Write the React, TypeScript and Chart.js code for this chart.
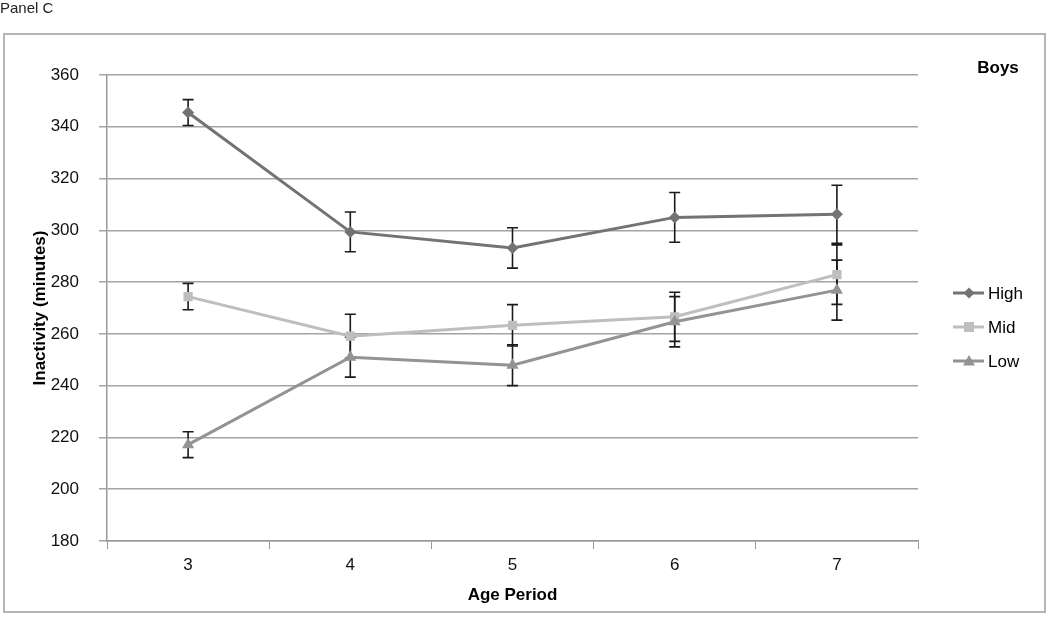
import React, { useEffect, useRef } from "react";
import { Chart, registerables } from "chart.js";

Chart.register(...registerables);

const categories = ["3", "4", "5", "6", "7"];
const highValues = [345.5, 299.4, 293.2, 305.0, 306.2];
const highErrors = [5.0, 7.7, 7.8, 9.6, 11.2];
const midValues = [274.4, 259.1, 263.3, 266.6, 282.9];
const midErrors = [5.1, 8.5, 8.0, 9.5, 11.5];
const lowValues = [217.2, 251.0, 247.9, 264.7, 276.9];
const lowErrors = [5.0, 7.7, 7.9, 9.7, 11.6];
const seriesNames = ["High", "Mid", "Low"];
const yTitle = "Inactivity (minutes)";
const xTitle = "Age Period";
const panelTitle = "Panel C";
const groupLabel = "Boys";

const FONT = "'Liberation Sans', Arial, sans-serif";
const HIGH_COLOR = "#737373";
const MID_COLOR = "#bebebe";
const LOW_COLOR = "#939393";

const errorArrays = [highErrors, midErrors, lowErrors];

const errorBarPlugin = {
  id: "errorBars",
  beforeDatasetsDraw(chart: any) {
    const ctx = chart.ctx;
    const y = chart.scales.y;
    ctx.save();
    ctx.strokeStyle = "#1a1a1a";
    ctx.lineWidth = 1.6;
    chart.data.datasets.forEach((ds: any, i: number) => {
      const meta = chart.getDatasetMeta(i);
      const errs = errorArrays[i];
      meta.data.forEach((pt: any, j: number) => {
        const v = ds.data[j];
        const e = errs[j];
        const x = pt.x;
        const yt = y.getPixelForValue(v + e);
        const yb = y.getPixelForValue(v - e);
        ctx.beginPath();
        ctx.moveTo(x, yt);
        ctx.lineTo(x, yb);
        ctx.moveTo(x - 5.5, yt);
        ctx.lineTo(x + 5.5, yt);
        ctx.moveTo(x - 5.5, yb);
        ctx.lineTo(x + 5.5, yb);
        ctx.stroke();
      });
    });
    ctx.restore();
  },
};

const decorPlugin = {
  id: "decor",
  afterDraw(chart: any) {
    const ctx = chart.ctx;
    const area = chart.chartArea;
    ctx.save();
    // frame
    ctx.strokeStyle = "#b5b5b5";
    ctx.lineWidth = 2;
    ctx.strokeRect(4, 34, 1041, 578);
    // panel title
    ctx.fillStyle = "#222";
    ctx.font = `15px ${FONT}`;
    ctx.textAlign = "left";
    ctx.textBaseline = "middle";
    ctx.fillText(panelTitle, 0, 9);
    // y title
    ctx.font = `bold 17px ${FONT}`;
    ctx.fillStyle = "#000";
    ctx.save();
    ctx.translate(40, (area.top + area.bottom) / 2);
    ctx.rotate(-Math.PI / 2);
    ctx.textAlign = "center";
    ctx.textBaseline = "middle";
    ctx.fillText(yTitle, 0, 0);
    ctx.restore();
    // x title
    ctx.textAlign = "center";
    ctx.textBaseline = "middle";
    ctx.fillText(xTitle, (area.left + area.right) / 2, 595);
    // group label
    ctx.fillText(groupLabel, 998, 68);
    // legend
    const colors = [HIGH_COLOR, MID_COLOR, LOW_COLOR];
    const styles = ["rectRot", "rect", "triangle"];
    const ys = [293, 327, 361];
    ctx.font = `17px ${FONT}`;
    seriesNames.forEach((name, i) => {
      const ly = ys[i];
      ctx.strokeStyle = colors[i];
      ctx.lineWidth = 3;
      ctx.beginPath();
      ctx.moveTo(953, ly);
      ctx.lineTo(984, ly);
      ctx.stroke();
      ctx.fillStyle = colors[i];
      ctx.beginPath();
      if (styles[i] === "rectRot") {
        ctx.moveTo(969, ly - 5.5);
        ctx.lineTo(974.5, ly);
        ctx.lineTo(969, ly + 5.5);
        ctx.lineTo(963.5, ly);
        ctx.closePath();
      } else if (styles[i] === "rect") {
        ctx.rect(964, ly - 5, 10, 10);
      } else {
        ctx.moveTo(969, ly - 6);
        ctx.lineTo(975, ly + 4.5);
        ctx.lineTo(963, ly + 4.5);
        ctx.closePath();
      }
      ctx.fill();
      ctx.fillStyle = "#000";
      ctx.textAlign = "left";
      ctx.textBaseline = "middle";
      ctx.fillText(name, 988, ly + 1);
    });
    ctx.restore();
  },
};

export default function App() {
  const ref = useRef<HTMLCanvasElement | null>(null);
  useEffect(() => {
    if (!ref.current) return;
    const chart = new Chart(ref.current, {
      type: "line",
      data: {
        labels: categories,
        datasets: [
          {
            label: seriesNames[0],
            data: highValues,
            borderColor: HIGH_COLOR,
            backgroundColor: HIGH_COLOR,
            borderWidth: 3,
            pointStyle: "rectRot",
            pointRadius: 6,
            pointBorderWidth: 0,
            order: 2,
          },
          {
            label: seriesNames[1],
            data: midValues,
            borderColor: MID_COLOR,
            backgroundColor: MID_COLOR,
            borderWidth: 3,
            pointStyle: "rect",
            pointRadius: 6.5,
            pointBorderWidth: 0,
            order: 1,
          },
          {
            label: seriesNames[2],
            data: lowValues,
            borderColor: LOW_COLOR,
            backgroundColor: LOW_COLOR,
            borderWidth: 3,
            pointStyle: "triangle",
            pointRadius: 7,
            pointBorderWidth: 0,
            order: 0,
          },
        ],
      },
      options: {
        responsive: false,
        animation: false,
        devicePixelRatio: 1,
        layout: { padding: { top: 75, right: 132, left: 0, bottom: 0 } },
        plugins: { legend: { display: false }, tooltip: { enabled: false } },
        elements: { line: { tension: 0 } },
        scales: {
          x: {
            type: "category",
            offset: true,
            afterFit: (s: any) => {
              s.height = 76;
            },
            grid: {
              display: true,
              drawOnChartArea: false,
              drawTicks: true,
              tickLength: 8,
              offset: true,
              color: "#9a9a9a",
            },
            border: { display: true, color: "#9a9a9a", width: 1.5 },
            ticks: {
              padding: 6,
              color: "#111",
              font: { family: FONT, size: 17 },
            },
          },
          y: {
            min: 180,
            max: 360,
            afterFit: (s: any) => {
              s.width = 107;
            },
            grid: {
              color: "#a3a3a3",
              lineWidth: 1.5,
              tickLength: 8,
            },
            border: { display: true, color: "#9a9a9a", width: 1.5 },
            ticks: {
              stepSize: 20,
              padding: 20,
              color: "#111",
              font: { family: FONT, size: 17 },
            },
          },
        },
      },
      plugins: [errorBarPlugin, decorPlugin],
    } as any);
    return () => chart.destroy();
  }, []);
  return (
    <div style={{ position: "absolute", left: 0, top: 0, width: 1050, height: 617, background: "#fff" }}>
      <canvas ref={ref} width={1050} height={617} style={{ width: 1050, height: 617, display: "block" }} />
    </div>
  );
}
